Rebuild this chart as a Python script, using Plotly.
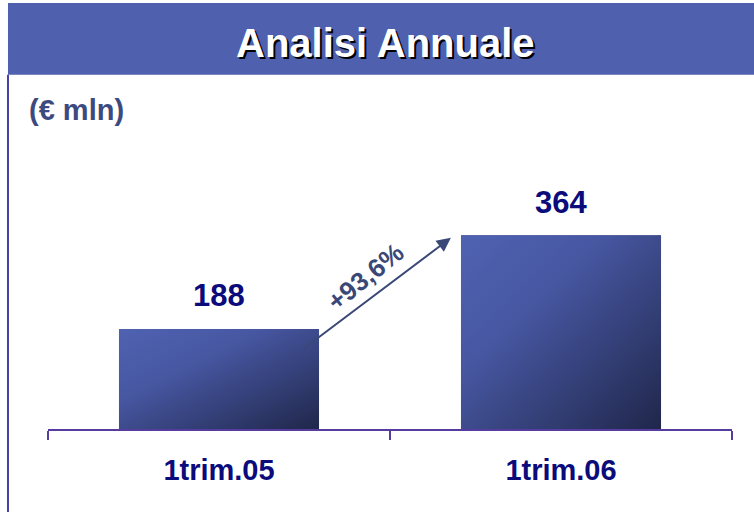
import base64
import plotly.graph_objects as go

# ---- data ----
categories = ["1trim.05", "1trim.06"]
values = [188, 364]
value_labels = ["188", "364"]
growth_label = "+93,6%"
title_text = "Analisi Annuale"
unit_text = "(€ mln)"

FONT = "Liberation Sans, Arial, sans-serif"
NAVY = "#0B0B7C"
AXIS_COL = "#553C9E"

# gradient image used to paint the bars
svg = (
    '<svg xmlns="http://www.w3.org/2000/svg" width="100" height="100" preserveAspectRatio="none" viewBox="0 0 100 100">'
    '<defs><linearGradient id="g" x1="0" y1="0" x2="1" y2="1">'
    '<stop offset="0" stop-color="#4F62B1"/>'
    '<stop offset="0.35" stop-color="#4757A2"/>'
    '<stop offset="1" stop-color="#20274B"/>'
    '</linearGradient></defs>'
    '<rect x="0" y="0" width="100" height="100" fill="url(#g)"/></svg>'
)
grad_src = "data:image/svg+xml;base64," + base64.b64encode(svg.encode()).decode()

BAR_W = 0.585

fig = go.Figure()
fig.add_trace(go.Bar(
    x=categories, y=values, width=BAR_W,
    marker=dict(color="#3A4785", line=dict(width=0)),
    hoverinfo="skip", showlegend=False,
))

images = []
for i, v in enumerate(values):
    images.append(dict(
        source=grad_src, xref="x", yref="y",
        x=i - BAR_W / 2, y=v, sizex=BAR_W, sizey=v,
        xanchor="left", yanchor="top", sizing="stretch",
        layer="above",
    ))

annotations = []
# value labels
for c, v, t in zip(categories, values, value_labels):
    annotations.append(dict(
        x=c, y=v, xref="x", yref="y", text=t, showarrow=False,
        xanchor="center", yanchor="middle", yshift=33,
        font=dict(family=FONT, size=31, color=NAVY, weight="bold"),
    ))

# growth arrow
annotations.append(dict(
    x=0.678, y=359, xref="x", yref="y",
    ax=0.2456, ay=150, axref="x", ayref="y",
    text="", showarrow=True, arrowhead=2, arrowsize=1.4,
    arrowwidth=2, arrowcolor="#3A4878",
))
annotations.append(dict(
    x=0.4635, y=0.545, xref="paper", yref="paper",
    text=growth_label, showarrow=False, textangle=-39,
    xanchor="center", yanchor="middle",
    font=dict(family=FONT, size=26, color="#3A4878", weight="bold"),
))

# title with shadow
annotations.append(dict(
    x=0.4927, y=1.3835, xref="paper", yref="paper", text=title_text,
    showarrow=False, xanchor="center", yanchor="middle",
    font=dict(family=FONT, size=40, color="#FFFFFF", weight="bold",
              shadow="2px 2px 0px #000000"),
))
# unit
annotations.append(dict(
    x=-0.0307, y=1.1434, xref="paper", yref="paper", text=unit_text,
    showarrow=False, xanchor="left", yanchor="middle",
    font=dict(family=FONT, size=29, color="#3C4A80", weight="bold"),
))

shapes = [
    dict(type="rect", xref="paper", yref="paper",
         x0=-0.0585, x1=1.04, y0=1.27, y1=1.527,
         fillcolor="#4E60AE", line=dict(width=0), layer="below"),
    dict(type="line", xref="paper", yref="paper",
         x0=-0.0585, x1=-0.0585, y0=-0.31, y1=1.27,
         line=dict(color="#4A3FA5", width=2)),
]

fig.update_layout(
    width=754, height=512,
    margin=dict(l=48, r=22, t=150, b=83),
    paper_bgcolor="white", plot_bgcolor="white",
    bargap=0.415,
    images=images, annotations=annotations, shapes=shapes,
    xaxis=dict(
        type="category", range=[-0.5, 1.5],
        tickson="boundaries", ticks="outside", ticklen=9, tickwidth=2,
        tickcolor=AXIS_COL, showline=True, linecolor=AXIS_COL, linewidth=2,
        showgrid=False, zeroline=False, ticklabelstandoff=14,
        tickfont=dict(family=FONT, size=29, color=NAVY, weight="bold"),
    ),
    yaxis=dict(range=[0, 524], visible=False, showgrid=False, zeroline=False),
)

fig.write_html(
    "out.html",
    config={"displayModeBar": False},
    post_script="document.body.style.margin='0';document.body.style.overflow='hidden';",
)
